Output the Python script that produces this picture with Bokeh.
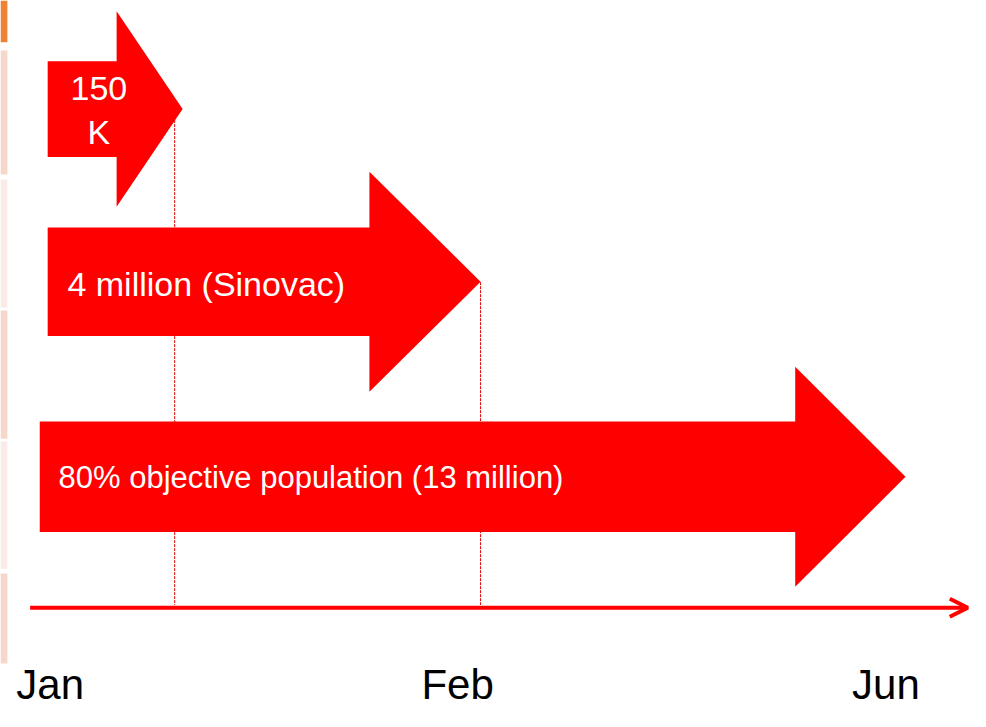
from bokeh.plotting import figure
from bokeh.models import Range1d, Arrow, OpenHead
from bokeh.core.properties import value
from bokeh.embed import file_html
from bokeh.resources import INLINE

# ---- data (timeline units: Jan = 0, Jun = 2) ----
months = ["Jan", "Feb", "Jun"]
month_x = [0.0, 0.975, 2.0]

arrow_labels = ["150\nK", "4 million (Sinovac)", "80% objective population (13 million)"]
arrow_start = [-0.006, -0.006, -0.025]
arrow_end = [0.317, 1.030, 2.047]
arrow_row = [111, 287.5, 487]          # vertical row centre
body_half = [49, 55.5, 56.5]
head_half = [100, 112.5, 112.5]
head_len = [0.158, 0.266, 0.264]

milestone_x = [0.298, 1.030]
milestone_top = [110, 288]

timeline_start = -0.048
timeline_end = 2.196
timeline_y = 621

RED = "#FF0000"

X0, X1 = -0.1189, 2.2025
p = figure(width=970, height=711, output_backend="svg", toolbar_location=None,
           x_range=Range1d(X0, X1), y_range=Range1d(727, 0),
           min_border=0, min_border_left=0, min_border_right=0,
           min_border_top=0, min_border_bottom=0)
p.axis.visible = False
p.grid.visible = False
p.outline_line_color = None
p.background_fill_color = "white"
p.border_fill_color = "white"

# decorative strips on the left edge
strip_top = [0, 51, 183, 317, 451, 586]
strip_bot = [42.6, 178, 314, 448, 581, 678]
strip_col = ["#EE8336", "#F8D7CB", "#FBEBE6", "#F8D7CB", "#FBEBE6", "#F8D7CB"]
p.quad(left=X0, right=-0.1024, top=strip_top, bottom=strip_bot,
       fill_color=strip_col, line_color=None)

# milestone dashed lines
p.segment(x0=milestone_x, x1=milestone_x, y0=milestone_top,
          y1=[timeline_y - 3] * len(milestone_x),
          line_color="#E00000", line_width=1, line_dash="3 1")

# arrows
xs, ys = [], []
for s, e, r, bh, hh, hl in zip(arrow_start, arrow_end, arrow_row, body_half, head_half, head_len):
    hb = e - hl
    xs.append([s, hb, hb, e, hb, hb, s])
    ys.append([r - bh, r - bh, r - hh, r, r + hh, r + bh, r + bh])
p.patches(xs, ys, fill_color=RED, line_color=None)

# arrow labels
FONT = value("Liberation Sans")
lines1 = arrow_labels[0].split("\n")
p.text(x=[0.1165] * 2, y=[90, 134], text=lines1, text_color="white",
       text_font=FONT, text_font_size="34px",
       text_align="center", text_baseline="middle")
p.text(x=[0.0412], y=[290], text=[arrow_labels[1]], text_color="white",
       text_font=FONT, text_font_size="34px",
       text_align="left", text_baseline="middle")
p.text(x=[0.020], y=[488], text=[arrow_labels[2]], text_color="white",
       text_font=FONT, text_font_size="31px",
       text_align="left", text_baseline="middle")

# timeline
p.add_layout(Arrow(x_start=timeline_start, y_start=timeline_y,
                   x_end=timeline_end, y_end=timeline_y,
                   line_color=RED, line_width=4,
                   end=OpenHead(size=18, line_color=RED, line_width=4)))

# month labels
p.text(x=month_x, y=[699] * len(months), text=months, text_color="black",
       text_font=FONT, text_font_size="42px",
       text_align="center", text_baseline="middle")

open("out.html", "w").write(file_html(p, INLINE))
